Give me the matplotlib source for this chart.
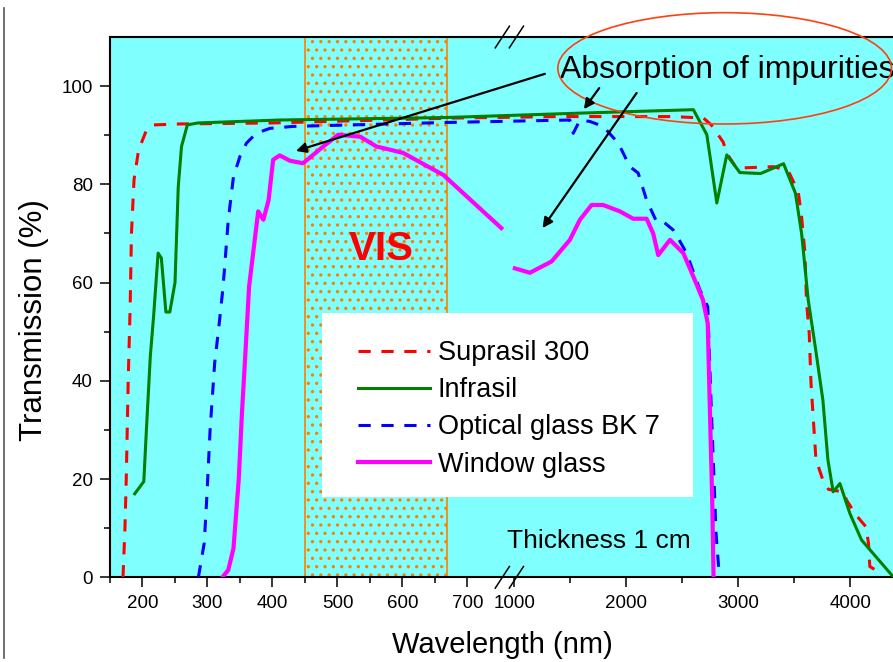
import numpy as np
import matplotlib
matplotlib.use('Agg')
import matplotlib.pyplot as plt
from matplotlib.lines import Line2D
from matplotlib.patches import Ellipse, Rectangle

plt.rcParams['font.family'] = ['Liberation Sans', 'DejaVu Sans']
plt.rcParams['hatch.linewidth'] = 1.2

# --- transmission curves (wavelength nm, T %) ---
suprasil_wl = [170, 173, 175, 178, 181, 183, 187, 194, 206, 217, 258, 400, 680,
               1400, 2420, 2690, 2760, 2866, 2896, 2985, 3313, 3446, 3536, 3566,
               3596, 3610, 3634, 3650, 3694, 3753, 3806, 3880, 3937, 3968, 4051,
               4140, 4163, 4175, 4275]
suprasil_T = [0, 10, 20, 40, 55, 70, 81, 87, 91, 92.1, 92.3, 92.5, 93.5,
              93.8, 93.8, 93.5, 92.1, 88.6, 86.4, 83.3, 83.6, 82.8, 78.5, 73.4,
              66, 56, 49.7, 39.5, 24, 20, 17.9, 17.6, 17.4, 15.7, 12.7,
              10.3, 7, 2.2, 0.8]

infrasil_wl = [188, 202, 206, 212, 217, 224, 229, 236, 242, 250, 255, 260, 269,
               285, 411, 665, 1586, 2600, 2720, 2809, 2898, 3015, 3200, 3405,
               3511, 3566, 3625, 3692, 3756, 3801, 3848, 3908, 3997, 4101, 4384]
infrasil_T = [17, 19.5, 30, 45, 53, 66, 65, 54, 54, 60, 79.5, 87.7, 92.1,
              92.5, 93.1, 93.6, 94.5, 95.2, 90.1, 76.2, 86, 82.4, 82.2, 84.2,
              78.2, 70, 56.5, 46.3, 36.1, 23.9, 17.4, 19.1, 13, 7.6, 0.1]

bk7_wl = [286, 295, 299, 304, 311, 317, 324, 332, 340, 350, 360, 375, 396, 432,
          668, 1497, 1527, 1587, 1676, 1795, 1929, 2033, 2107, 2182, 2271, 2331,
          2420, 2465, 2539, 2658, 2728, 2757, 2802, 2832]
bk7_T = [0, 7, 16.4, 30, 43.6, 50.4, 59.2, 72.8, 81.6, 85.7, 88.4, 90.4, 91.4, 91.8,
         92.6, 93.1, 90.4, 93.1, 92.8, 91.8, 88.4, 83.6, 82.3, 76.8, 72.4, 72.4,
         70.7, 69, 66, 58.5, 55.1, 36.1, 9, 0]

# nan splits the window glass curve at the axis break
window_wl = [323, 332, 340, 348, 353, 358, 364, 378, 386, 394, 401, 411, 427, 447,
             478, 501, 535, 560, 570, 601, 663, 752, np.nan,
             1006, 1140, 1334, 1497, 1587, 1691, 1794, 1944, 2062, 2182, 2241,
             2286, 2391, 2510, 2600, 2685, 2728, 2745, 2768, 2780]
window_T = [0, 1.5, 5.9, 19.8, 33.4, 44.9, 59.2, 74.5, 72.8, 76.8, 85, 85.9, 84.8, 84.3,
            87.7, 90.1, 89.7, 87.7, 87.4, 86.4, 81.9, 71.1, np.nan,
            62.9, 62, 64.3, 68.7, 72.8, 75.8, 75.8, 74.5, 73, 73, 70,
            65.6, 68.7, 66, 61.2, 56.5, 51.7, 36.1, 15.7, 0]

series_labels = ['Suprasil 300', 'Infrasil', 'Optical glass BK 7', 'Window glass']

x_major = [200, 300, 400, 500, 600, 700, 1000, 2000, 3000, 4000]
x_major_labels = ['200', '300', '400', '500', '600', '700', '1000', '2000', '3000', '4000']
x_minor = [150, 250, 350, 450, 550, 650, 1500, 2500, 3500]
y_major = [0, 20, 40, 60, 80, 100]
y_minor = [10, 30, 50, 70, 90]

vis_band = (450, 668)

# --- broken x axis: linear 150-755 nm, then compressed linear from ~900 nm ---
RIGHT_SLOPE = 0.112 / 0.65
KNOTS_WL = [-1e4, 755.0, 905.0, 1e5]
KNOTS_AX = [-1e4, 755.0, 755.5, 755.5 + (1e5 - 905.0) * RIGHT_SLOPE]


def wl_forward(w):
    return np.interp(w, KNOTS_WL, KNOTS_AX)


def wl_inverse(u):
    return np.interp(u, KNOTS_AX, KNOTS_WL)


def draw_break_marks(ax, y):
    # two short slashes straddling the spine at axes-fraction height y
    for xc in (0.4998, 0.5177):
        ax.add_line(Line2D([xc - 0.009, xc + 0.009], [y - 0.020, y + 0.020],
                           transform=ax.transAxes, color='black', lw=1.1,
                           clip_on=False, zorder=6))


def main():
    fig = plt.figure(figsize=(8.93, 6.62), dpi=100)
    ax = fig.add_axes([110 / 893, 84.7 / 662, 785 / 893, 540.3 / 662])
    ax.set_facecolor('#80ffff')

    ax.set_xscale('function', functions=(wl_forward, wl_inverse))
    ax.set_xlim(150, 4400)
    ax.set_ylim(0, 110)

    ax.axvspan(*vis_band, facecolor='none', edgecolor='#ff8000', hatch='..',
               lw=1.2, zorder=1.5)

    ax.plot(suprasil_wl, suprasil_T, color='#ff0000', lw=2.2, dashes=(4, 3.5),
            label=series_labels[0], zorder=3)
    ax.plot(infrasil_wl, infrasil_T, color='#008000', lw=2.2,
            label=series_labels[1], zorder=3)
    ax.plot(bk7_wl, bk7_T, color='#0000ff', lw=2.2, dashes=(4, 3.5),
            label=series_labels[2], zorder=3)
    ax.plot(window_wl, window_T, color='#ff00ff', lw=3.0,
            label=series_labels[3], zorder=3)

    ax.set_xticks(x_major)
    ax.set_xticklabels(x_major_labels)
    ax.set_xticks(x_minor, minor=True)
    ax.set_yticks(y_major)
    ax.set_yticks(y_minor, minor=True)
    ax.tick_params(which='both', direction='out', width=1.1, labelsize=13.5, pad=5)
    ax.tick_params(which='major', length=7.5)
    ax.tick_params(which='minor', length=4.5)
    for side in ('left', 'bottom', 'top'):
        ax.spines[side].set_linewidth(1.5)
    ax.spines['right'].set_visible(False)

    ax.set_xlabel('Wavelength (nm)', fontsize=21)
    ax.xaxis.set_label_coords(0.5, -0.100)
    ax.set_ylabel('Transmission (%)', fontsize=22.5)
    ax.yaxis.set_label_coords(-0.078, 0.476)

    # white legend panel
    ax.add_patch(Rectangle((0.2701, 0.1486), 0.4726, 0.3406, transform=ax.transAxes,
                           facecolor='white', edgecolor='none', zorder=4))
    leg = ax.legend(loc='upper left', bbox_to_anchor=(0.3159, 0.4392), frameon=False,
                    fontsize=19.5, borderpad=0, borderaxespad=0, handlelength=2.65,
                    handletextpad=0.3, labelspacing=0.415)
    leg.set_zorder(5)

    ax.text(567, 66.8, 'VIS', color='#ff0000', fontsize=29, fontweight='bold',
            ha='center', va='center', zorder=3)
    ax.text(1752, 7.3, 'Thickness 1 cm', fontsize=19, ha='center', va='center', zorder=3)
    ax.text(2899, 103.3, 'Absorption of impurities', fontsize=23, ha='center',
            va='center', zorder=6, clip_on=False)
    ax.add_patch(Ellipse((0.783, 0.942), 0.425, 0.206, transform=ax.transAxes,
                         facecolor='none', edgecolor='#ff4010', lw=1.2,
                         clip_on=False, zorder=6))

    arrows = [((1274, 102.5), (436, 86.8)),
              ((1759, 99.6), (1622, 95.3)),
              ((2093, 98.6), (1253, 71.1))]
    for start, end in arrows:
        ax.annotate('', xy=end, xytext=start,
                    arrowprops=dict(arrowstyle='-|>', color='black', lw=1.6,
                                    mutation_scale=15, shrinkA=0, shrinkB=0),
                    zorder=6)

    draw_break_marks(ax, 1.0)
    draw_break_marks(ax, 0.0)

    # edge of the surrounding frame, cut off at the left of the picture
    fig.add_artist(Line2D([3.5 / 893, 3.5 / 893], [1 - 8 / 662, 1 - 658 / 662],
                          color='#555555', lw=1.2))

    fig.savefig('out.png', dpi=100)


if __name__ == '__main__':
    main()
